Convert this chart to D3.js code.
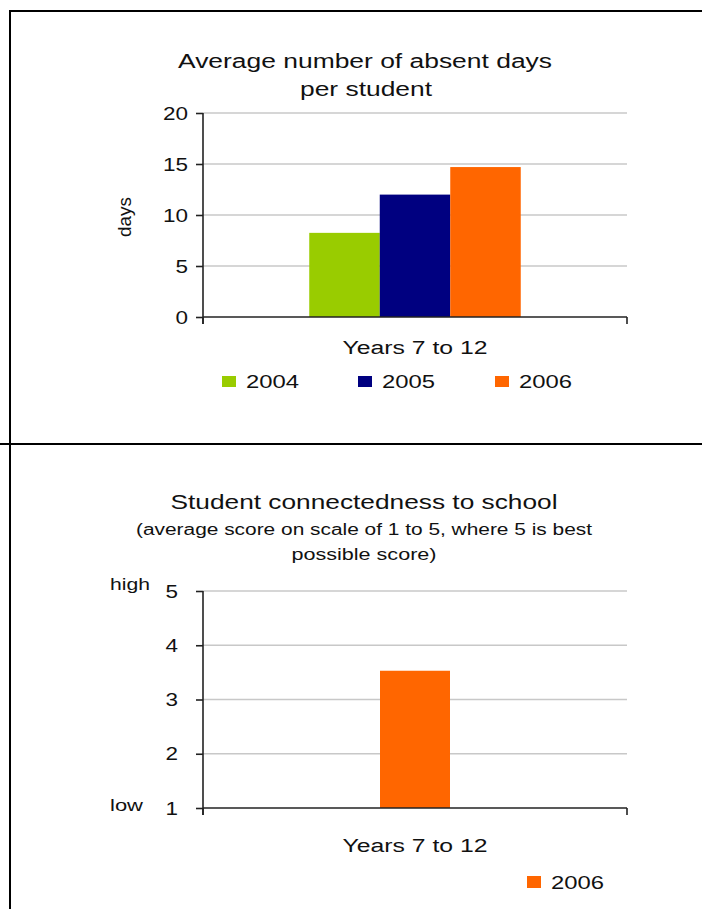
<!DOCTYPE html>
<html>
<head>
<meta charset="utf-8">
<script src="https://cdn.jsdelivr.net/npm/d3@7"></script>
<style>
  html, body { margin: 0; padding: 0; background: #fff; }
  svg { display: block; }
  text { font-family: "Liberation Sans", Arial, sans-serif; fill: #111; }
</style>
</head>
<body>
<svg id="chart" width="702" height="909"></svg>
<script>
// Absent days per student, Years 7 to 12
const absentCategories = ["Years 7 to 12"];
const absentYears = ["2004", "2005", "2006"];
const absentDays = [8.25, 12.0, 14.7];
const absentTicks = [0, 5, 10, 15, 20];

// Student connectedness score (1 to 5)
const connectCategories = ["Years 7 to 12"];
const connectYears = ["2006"];
const connectScores = [3.53];
const connectTicks = [1, 2, 3, 4, 5];

const yearColors = { "2004": "#99CC00", "2005": "#000080", "2006": "#FF6600" };

const svg = d3.select("#chart");

// The text is set wide, so each label gets an explicit drawn width
function label(parent, x, y, str, size, width, anchor) {
  const t = parent.append("text")
    .attr("x", x).attr("y", y)
    .attr("text-anchor", anchor || "middle")
    .style("font-size", size + "px")
    .text(str);
  if (width) t.attr("textLength", width).attr("lengthAdjust", "spacingAndGlyphs");
  return t;
}

// Page frame: left edge, top edge and divider between the two panels
const frame = svg.append("g").attr("stroke", "#000").attr("stroke-width", 2);
frame.append("line").attr("x1", 10).attr("x2", 10).attr("y1", 10).attr("y2", 909);
frame.append("line").attr("x1", 9).attr("x2", 702).attr("y1", 11).attr("y2", 11);
frame.append("line").attr("x1", 0).attr("x2", 702).attr("y1", 444).attr("y2", 444);

function drawPanel(opts) {
  const g = svg.append("g");
  const x = d3.scaleBand().domain(opts.categories).range([opts.left, opts.right]);
  const y = d3.scaleLinear().domain(opts.domain).range([opts.bottom, opts.top]);

  // gridlines
  g.append("g").selectAll("line").data(opts.ticks.filter(t => t !== opts.domain[0]))
    .join("line")
    .attr("x1", opts.left).attr("x2", opts.right)
    .attr("y1", d => y(d)).attr("y2", d => y(d))
    .attr("stroke", "#c8c8c8").attr("stroke-width", 1.3);

  // bars, grouped within the category band
  const groupW = opts.barWidth * opts.series.length;
  const inner = d3.scaleBand().domain(opts.series).range([0, groupW]);
  opts.categories.forEach(cat => {
    const x0 = x(cat) + (x.bandwidth() - groupW) / 2;
    g.append("g").selectAll("rect").data(opts.series)
      .join("rect")
      .attr("x", s => x0 + inner(s))
      .attr("width", inner.bandwidth())
      .attr("y", (s, i) => y(opts.values[i]))
      .attr("height", (s, i) => y(opts.domain[0]) - y(opts.values[i]))
      .attr("fill", s => yearColors[s]);
  });

  // y axis
  const yAxis = d3.axisLeft(y).tickValues(opts.ticks).tickSize(7)
    .tickPadding(opts.tickPad).tickFormat(d3.format("d"));
  const ya = g.append("g").attr("transform", `translate(${opts.left},0)`).call(yAxis);
  ya.select(".domain").attr("d", `M0,${opts.top}V${opts.bottom + 7}`)
    .attr("stroke", "#222").attr("stroke-width", 1.6);
  ya.selectAll(".tick line").attr("stroke", "#222").attr("stroke-width", 1.6);
  ya.selectAll(".tick text")
    .style("font-size", "19px").attr("fill", "#111")
    .style("font-family", '"Liberation Sans", Arial, sans-serif')
    .attr("textLength", d => String(d).length * 12.5)
    .attr("lengthAdjust", "spacingAndGlyphs");

  // x axis with boundary ticks
  const xa = g.append("g");
  xa.append("line").attr("x1", opts.left).attr("x2", opts.right)
    .attr("y1", opts.bottom).attr("y2", opts.bottom)
    .attr("stroke", "#222").attr("stroke-width", 1.6);
  const edges = [x.range()[0]].concat(opts.categories.map(c => x(c) + x.bandwidth()));
  xa.selectAll("line.edge").data(edges).join("line").attr("class", "edge")
    .attr("x1", d => d).attr("x2", d => d)
    .attr("y1", opts.bottom).attr("y2", opts.bottom + 7)
    .attr("stroke", "#222").attr("stroke-width", 1.6);
  opts.categories.forEach(c => {
    label(xa, x(c) + x.bandwidth() / 2, opts.bottom + opts.catOffset, c, 18, 145);
  });

  return { g, x, y };
}

// ---- Panel 1: absent days ----
drawPanel({
  categories: absentCategories, series: absentYears, values: absentDays,
  domain: [0, 20], ticks: absentTicks, tickPad: 8, catOffset: 37,
  left: 203, right: 627, top: 113, bottom: 317, barWidth: 70.5
});
label(svg, 365, 68, "Average number of absent days", 20, 374);
label(svg, 366, 96, "per student", 20, 132);
label(svg, 0, 0, "days", 18, 40)
  .attr("transform", "translate(131,217) rotate(-90)");

// legend for panel 1
const leg1X = [222, 358, 495];
const leg1 = svg.append("g").selectAll("g").data(absentYears).join("g")
  .attr("transform", (d, i) => `translate(${leg1X[i]},376)`);
leg1.append("rect").attr("width", 14).attr("height", 11).attr("fill", d => yearColors[d]);
leg1.each(function (d) { label(d3.select(this), 24, 12, d, 18, 53, "start"); });

// ---- Panel 2: connectedness ----
drawPanel({
  categories: connectCategories, series: connectYears, values: connectScores,
  domain: [1, 5], ticks: connectTicks, tickPad: 18, catOffset: 44,
  left: 203, right: 627, top: 591, bottom: 808, barWidth: 70
});
label(svg, 364, 509, "Student connectedness to school", 21, 387);
label(svg, 364, 535, "(average score on scale of 1 to 5, where 5 is best", 16, 456);
label(svg, 364, 560, "possible score)", 16, 145);
label(svg, 110, 590, "high", 17, 40, "start");
label(svg, 110, 811, "low", 17, 33, "start");

// legend for panel 2
const leg2 = svg.append("g").selectAll("g").data(connectYears).join("g")
  .attr("transform", "translate(527,876)");
leg2.append("rect").attr("width", 14).attr("height", 12).attr("fill", d => yearColors[d]);
leg2.each(function (d) { label(d3.select(this), 24, 13, d, 18, 53, "start"); });
</script>
</body>
</html>
